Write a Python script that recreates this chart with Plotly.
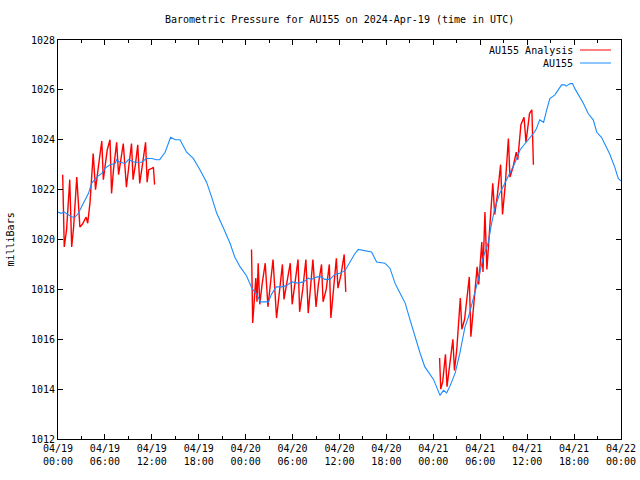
import pandas as pd
import plotly.graph_objects as go

# ---- data (hours after 2024-04-19 00:00 UTC, pressure in mb) ----
obs_hours = [0.0, 0.4, 0.8, 1.3, 1.75, 2.2, 2.6, 3.0, 3.45, 3.9, 4.3, 4.95, 5.6, 6.0, 6.65, 7.3, 7.5, 7.9,
             8.6, 9.0, 9.85, 10.7, 11.3, 12.0, 12.6, 13.0, 13.7, 14.1, 14.4, 15.0, 15.6, 16.45, 17.3, 18.15,
             19.0, 19.65, 20.3, 21.1, 22.0, 22.6, 23.3, 24.1, 24.8, 25.4, 25.9, 26.9, 27.3, 27.9, 28.6, 29.2,
             29.9, 30.7, 31.4, 32.0, 32.4, 33.1, 33.7, 34.1, 34.8, 35.4, 36.05, 36.7, 37.3, 37.9, 38.4, 39.5,
             40.1, 40.75, 41.4, 41.8, 42.45, 43.1, 43.5, 44.4, 45.0, 45.65, 46.3, 46.9, 47.6, 48.0, 48.4,
             48.85, 49.3, 49.7, 50.1, 50.8, 51.4, 52.05, 52.5, 53.1, 53.75, 54.4, 55.0, 55.45, 55.9, 56.5,
             57.2, 57.8, 58.4, 59.1, 59.7, 60.4, 60.8, 61.2, 61.6, 62.1, 62.5, 62.9, 63.55, 64.0, 64.4, 64.8,
             65.0, 65.5, 65.8, 66.1, 66.5, 67.2, 67.8, 68.45, 68.9, 69.5, 69.9, 70.6, 71.2, 71.65, 72.0]
obs_values = [1021.1, 1021.05, 1021.1, 1021.0, 1020.9, 1020.9, 1021.05, 1021.3, 1021.6, 1021.85, 1022.25,
              1022.5, 1022.65, 1022.85, 1023.0, 1023.05, 1023.2, 1023.1, 1023.05, 1023.2, 1023.1, 1023.1,
              1023.25, 1023.25, 1023.2, 1023.2, 1023.5, 1023.85, 1024.1, 1024.0, 1024.0, 1023.5, 1023.25,
              1022.8, 1022.3, 1021.7, 1021.05, 1020.5, 1019.85, 1019.3, 1018.9, 1018.55, 1018.05, 1017.8,
              1017.5, 1017.5, 1017.8, 1018.1, 1018.1, 1018.15, 1018.3, 1018.25, 1018.3, 1018.45, 1018.4,
              1018.5, 1018.5, 1018.4, 1018.4, 1018.6, 1018.65, 1018.75, 1019.1, 1019.4, 1019.6, 1019.55,
              1019.5, 1019.1, 1019.05, 1019.05, 1018.85, 1018.25, 1018.0, 1017.45, 1016.8, 1016.1, 1015.45,
              1014.9, 1014.55, 1014.4, 1014.1, 1013.75, 1013.95, 1013.85, 1014.1, 1014.65, 1015.45, 1016.5,
              1016.9, 1017.6, 1018.4, 1019.3, 1019.85, 1020.65, 1021.3, 1021.85, 1022.3, 1022.65, 1023.05,
              1023.6, 1023.85, 1024.1, 1024.25, 1024.45, 1024.8, 1024.7, 1025.2, 1025.65, 1025.8, 1026.0,
              1026.2, 1026.2, 1026.15, 1026.25, 1026.25, 1026.05, 1025.85, 1025.45, 1025.05, 1024.8, 1024.3,
              1024.1, 1023.85, 1023.4, 1022.9, 1022.45, 1022.35]

ana1_hours = [0.6, 0.8, 1.1, 1.5, 1.75, 2.0, 2.4, 2.8, 3.1, 3.6, 3.8, 4.1, 4.5, 4.8, 5.2, 5.6, 5.8, 6.3, 6.65,
              6.85, 7.1, 7.5, 7.75, 8.0, 8.35, 8.75, 9.0, 9.4, 9.6, 9.9, 10.2, 10.45, 10.8, 11.2, 11.4, 11.6,
              12.0, 12.2, 12.35]
ana1_values = [1022.6, 1019.7, 1020.4, 1022.4, 1019.7, 1020.5, 1022.5, 1020.5, 1020.6, 1020.9, 1020.65,
               1021.5, 1023.45, 1022.0, 1023.0, 1023.95, 1022.4, 1023.6, 1024.0, 1021.85, 1022.8, 1023.9,
               1022.6, 1023.1, 1023.85, 1022.1, 1022.8, 1023.85, 1022.4, 1023.0, 1023.8, 1022.25, 1023.0,
               1023.9, 1022.3, 1022.8, 1022.85, 1022.9, 1022.2]

ana2_hours = [24.75, 24.9, 25.3, 25.45, 25.6, 25.8, 26.1, 26.5, 26.85, 27.1, 27.5, 27.95, 28.3, 28.7, 28.9,
              29.3, 29.7, 29.95, 30.3, 30.7, 30.9, 31.3, 31.7, 32.0, 32.3, 32.6, 33.0, 33.3, 33.7, 33.9,
              34.3, 34.7, 34.9, 35.2, 35.6, 35.8, 36.2, 36.6, 36.8]
ana2_values = [1019.6, 1016.65, 1018.45, 1017.5, 1019.05, 1017.4, 1018.2, 1019.05, 1017.3, 1018.0, 1019.2,
               1016.85, 1018.0, 1019.0, 1017.6, 1018.3, 1019.05, 1017.4, 1018.2, 1019.2, 1017.1, 1018.0,
               1019.2, 1017.05, 1018.1, 1019.2, 1017.3, 1018.2, 1019.0, 1017.5, 1018.0, 1019.0, 1016.85,
               1018.0, 1019.25, 1018.05, 1018.6, 1019.4, 1017.9]

ana3_hours = [48.8, 48.95, 49.2, 49.55, 49.75, 50.1, 50.5, 50.7, 51.0, 51.45, 51.65, 52.0, 52.6, 52.8, 53.2,
              53.6, 53.8, 54.2, 54.35, 54.6, 54.85, 55.2, 55.6, 55.85, 56.2, 56.6, 56.85, 57.2, 57.6, 57.8,
              58.2, 58.6, 58.8, 59.2, 59.6, 59.85, 60.3, 60.6, 60.8]
ana3_values = [1015.25, 1014.0, 1014.3, 1015.4, 1014.1, 1015.0, 1016.0, 1014.75, 1015.6, 1017.65, 1016.4,
               1016.8, 1018.5, 1016.1, 1017.4, 1018.9, 1018.2, 1019.9, 1018.7, 1021.1, 1018.8, 1020.5,
               1022.25, 1021.0, 1021.8, 1023.0, 1021.0, 1022.2, 1024.05, 1022.5, 1022.9, 1023.5, 1023.2,
               1024.6, 1024.9, 1023.9, 1025.05, 1025.2, 1023.0]

y_ticks = [1012, 1014, 1016, 1018, 1020, 1022, 1024, 1026, 1028]
start_time = "2024-04-19 00:00"
end_time = "2024-04-22 00:00"
title_text = "Barometric Pressure for AU155 on 2024-Apr-19 (time in UTC)"
series_names = ["AU155 Analysis", "AU155"]

# ---- build ----
base = pd.Timestamp(start_time)


def to_time(hours):
    return [base + pd.Timedelta(hours=h) for h in hours]


ana_x, ana_y = [], []
for hs, vs in [(ana1_hours, ana1_values), (ana2_hours, ana2_values), (ana3_hours, ana3_values)]:
    ana_x += to_time(hs) + [None]
    ana_y += vs + [None]

RED = "#ff0000"
BLUE = "#1a8cff"
FONT = "DejaVu Sans Mono"

fig = go.Figure()
fig.add_trace(go.Scatter(x=ana_x, y=ana_y, mode="lines", name=series_names[0],
                         line=dict(color=RED, width=1.4), connectgaps=False, showlegend=False))
fig.add_trace(go.Scatter(x=to_time(obs_hours), y=obs_values, mode="lines", name=series_names[1],
                         line=dict(color=BLUE, width=1.1), showlegend=False))

# plot area: x 58..621, y 40..439 in the 640x480 window
W, H = 640, 480
L, T = 58, 40
R = W - 621
B = H - 439
pw, ph = W - L - R, H - T - B

axis_common = dict(showline=True, linecolor="black", linewidth=1, mirror="ticks", ticks="inside",
                   ticklen=5, tickcolor="black", showgrid=False, zeroline=False, automargin=False,
                   tickfont=dict(family=FONT, size=10, color="black"))

fig.update_layout(
    width=W, height=H, autosize=False,
    margin=dict(l=L, r=R, t=T, b=B, pad=0),
    paper_bgcolor="white", plot_bgcolor="white",
    font=dict(family=FONT, size=10, color="black"),
    xaxis=dict(type="date", range=[start_time, end_time], dtick=6 * 3600 * 1000,
               tick0=start_time, tickformat="%m/%d<br>%H:%M", ticklabeloverflow="allow",
               minor=dict(dtick=3 * 3600 * 1000, ticks="inside", ticklen=3, tickcolor="black"),
               **axis_common),
    yaxis=dict(range=[y_ticks[0], y_ticks[-1]], tickvals=y_ticks, ticktext=[str(v) for v in y_ticks],
               **axis_common),
)

# title (window y ~19)
fig.add_annotation(text=title_text, xref="paper", yref="paper", x=0.5, y=1 + (T - 19) / ph,
                   showarrow=False, xanchor="center", yanchor="middle",
                   font=dict(family=FONT, size=10, color="black"))
# y-axis label (window x ~10)
fig.add_annotation(text="milliBars", xref="paper", yref="paper", x=-(L - 10) / pw, y=0.5,
                   textangle=-90, showarrow=False, xanchor="center", yanchor="middle",
                   font=dict(family=FONT, size=10, color="black"))

# legend (gnuplot style: text, then sample on the right)
for i, (name, col) in enumerate(zip(series_names, [RED, BLUE])):
    ypix = 50 + 13 * i
    yp = 1 - (ypix - T) / ph
    fig.add_annotation(text=name, xref="paper", yref="paper", x=(575 - L) / pw, y=yp,
                       showarrow=False, xanchor="right", yanchor="middle",
                       font=dict(family=FONT, size=10, color="black"))
    fig.add_shape(type="line", xref="paper", yref="paper", x0=(580 - L) / pw, x1=(611 - L) / pw,
                  y0=yp, y1=yp, line=dict(color=col, width=1))

# remove the default page margin so the 640x480 figure fills the window exactly
fig.write_html("out.html", config={"displayModeBar": False},
               post_script="document.body.style.margin='0';document.body.style.overflow='hidden';")
